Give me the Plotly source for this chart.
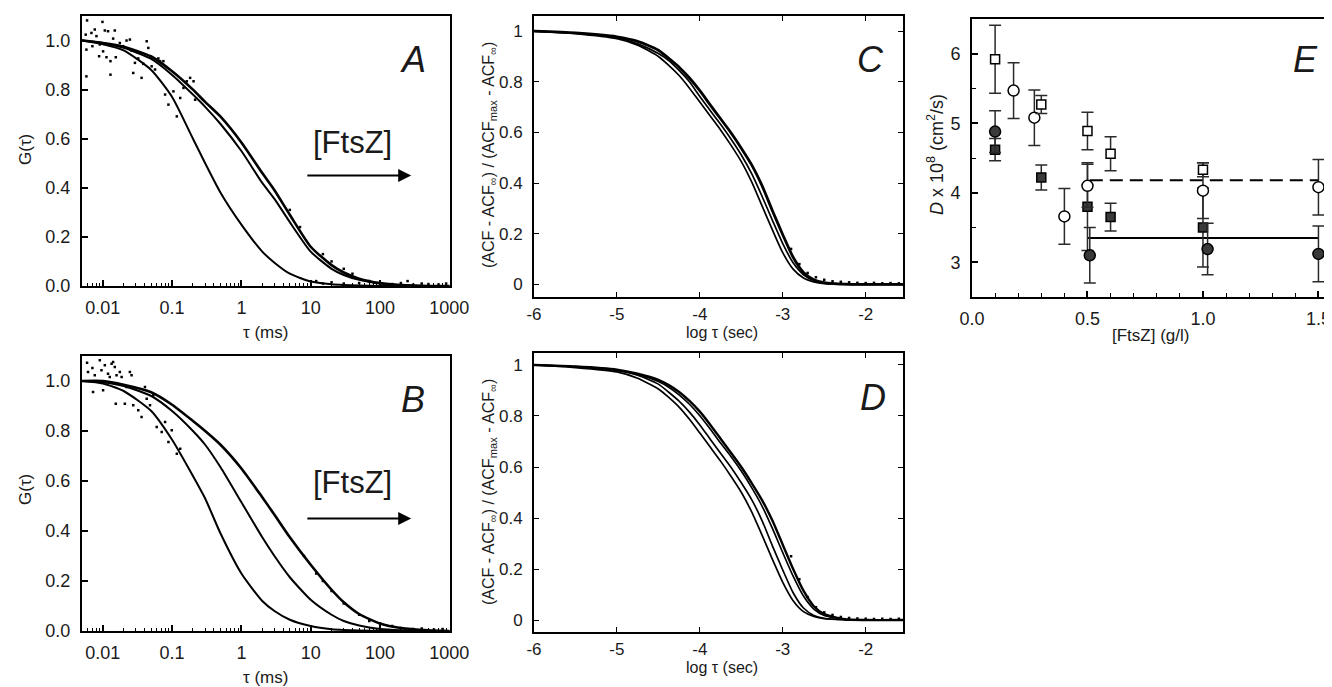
import plotly.graph_objects as go

# the page body keeps its default 8px margin, so the figure is a bit smaller
OFF = 8
W, H = 1332 - OFF, 687 - OFF
FONT = "Arial, Liberation Sans, sans-serif"
INK = "#1a1a1a"

#%% Panel A / B : G(tau) vs tau (ms), fitted curves
tau_fit = [0.005, 0.01, 0.02, 0.05, 0.1, 0.2, 0.3, 0.5, 1, 2, 3, 5, 10, 20, 30, 50, 100, 200, 500, 1000]

a_fast = [1.00, 0.985, 0.96, 0.88, 0.77, 0.60, 0.50, 0.38, 0.25, 0.14, 0.095, 0.05, 0.018, 0.007, 0.004, 0.002, 0.0, 0.0, 0.0, 0.0]
a_mid = [1.00, 0.99, 0.97, 0.925, 0.86, 0.78, 0.73, 0.66, 0.55, 0.42, 0.355, 0.26, 0.14, 0.07, 0.045, 0.025, 0.01, 0.003, 0.0, 0.0]
a_slow = [1.00, 0.99, 0.975, 0.935, 0.875, 0.80, 0.75, 0.69, 0.585, 0.46, 0.39, 0.29, 0.16, 0.085, 0.055, 0.03, 0.012, 0.004, 0.0, 0.0]

b_fast = [1.00, 0.99, 0.96, 0.88, 0.765, 0.62, 0.53, 0.39, 0.23, 0.12, 0.08, 0.045, 0.02, 0.007, 0.004, 0.002, 0.0, 0.0, 0.0, 0.0]
b_mid = [1.00, 0.995, 0.98, 0.94, 0.88, 0.80, 0.745, 0.655, 0.515, 0.375, 0.30, 0.215, 0.125, 0.065, 0.04, 0.022, 0.008, 0.003, 0.0, 0.0]
b_slow = [1.00, 1.00, 0.985, 0.955, 0.905, 0.84, 0.80, 0.745, 0.65, 0.535, 0.465, 0.375, 0.265, 0.165, 0.115, 0.068, 0.03, 0.012, 0.003, 0.0]

# scattered raw points (mostly the noisy short-lag part)
a_dot_t = [0.00593, 0.00567, 0.0058, 0.0058, 0.00686, 0.00766, 0.00708, 0.0081, 0.00989, 0.00905,
           0.00885, 0.0101, 0.0107, 0.0119, 0.0113, 0.0129, 0.0129, 0.0141, 0.0149, 0.0154,
           0.0176, 0.0197, 0.022, 0.0246, 0.026, 0.0275, 0.0291, 0.0325, 0.0363, 0.0384,
           0.043, 0.0454, 0.048, 0.0507, 0.0567, 0.0634, 0.067, 0.0749, 0.0792, 0.0885,
           0.1045, 0.117, 0.131, 0.146, 0.163, 0.182, 0.204, 0.215,
           5, 7, 15, 20, 30, 40, 12, 15, 20, 30, 50, 70, 100, 150, 200, 250, 300, 400, 500, 700, 900]
a_dot_g = [1.082, 1.024, 0.963, 0.854, 1.031, 1.045, 0.977, 1.018, 1.076, 0.984,
           0.936, 0.956, 1.041, 1.038, 0.932, 0.861, 0.916, 1.008, 1.041, 0.932,
           0.99, 0.977, 1.0, 1.004, 0.959, 0.868, 0.909, 0.927, 0.848, 0.905,
           0.997, 0.970, 0.936, 0.895, 0.882, 0.927, 0.916, 0.916, 0.78, 0.739,
           0.793, 0.691, 0.766, 0.807, 0.834, 0.848, 0.834, 0.759,
           0.31, 0.24, 0.13, 0.10, 0.07, 0.05, 0.02, 0.01, 0.015, 0.01, 0.012, 0.02, 0.01, 0.008, 0.012, 0.02, 0.005, 0.01, 0.008, 0.006, 0.01]

b_dot_t = [0.00593, 0.00612, 0.00708, 0.00724, 0.00766, 0.00905, 0.00957, 0.0101, 0.0107, 0.0119,
           0.0126, 0.0134, 0.0141, 0.0149, 0.0154, 0.0158, 0.0176, 0.0187, 0.0208, 0.022,
           0.0246, 0.026, 0.0275, 0.0325, 0.0363, 0.0406, 0.043, 0.048, 0.0537, 0.06,
           0.0708, 0.0792, 0.0885, 0.0989, 0.117, 0.131,
           8, 12, 15, 20, 30, 50, 70, 100, 150, 200, 300, 400, 600, 800]
b_dot_g = [1.073, 1.036, 1.052, 0.956, 1.023, 1.083, 1.043, 0.963, 1.063, 1.029,
           1.016, 1.069, 1.076, 1.056, 0.909, 1.023, 1.036, 1.016, 0.909, 0.976,
           1.036, 1.023, 0.903, 0.883, 0.856, 0.976, 0.929, 0.903, 0.943, 0.816,
           0.796, 0.836, 0.756, 0.803, 0.709, 0.729,
           0.30, 0.23, 0.20, 0.16, 0.11, 0.065, 0.04, 0.03, 0.02, 0.012, 0.008, 0.01, 0.006, 0.008]

#%% Panel C / D : normalised ACF vs log tau (sec)
logt = [-6, -5.5, -5, -4.75, -4.5, -4.375, -4.25, -4.125, -4, -3.875, -3.75, -3.625,
        -3.5, -3.375, -3.25, -3.125, -3, -2.875, -2.75, -2.625, -2.5, -2.25, -2, -1.5]

c_1 = [1.0, 0.99, 0.97, 0.945, 0.90, 0.865, 0.825, 0.775, 0.72, 0.665, 0.61, 0.55,
       0.485, 0.405, 0.31, 0.215, 0.125, 0.06, 0.025, 0.01, 0.003, 0.0, 0.0, 0.0]
c_2 = [1.0, 0.992, 0.974, 0.95, 0.912, 0.884, 0.845, 0.80, 0.742, 0.687, 0.632, 0.574,
       0.511, 0.437, 0.348, 0.253, 0.161, 0.085, 0.038, 0.015, 0.006, 0.001, 0.0, 0.0]
c_3 = [1.0, 0.993, 0.978, 0.96, 0.925, 0.893, 0.858, 0.815, 0.765, 0.709, 0.654, 0.599,
       0.538, 0.472, 0.39, 0.291, 0.196, 0.107, 0.047, 0.018, 0.007, 0.001, 0.0, 0.0]

d_1 = [1.0, 0.99, 0.973, 0.948, 0.906, 0.873, 0.835, 0.787, 0.733, 0.678, 0.623, 0.564,
       0.501, 0.424, 0.333, 0.238, 0.148, 0.076, 0.033, 0.014, 0.005, 0.001, 0.0, 0.0]
d_2 = [1.0, 0.993, 0.978, 0.96, 0.925, 0.893, 0.858, 0.815, 0.765, 0.709, 0.654, 0.599,
       0.538, 0.472, 0.39, 0.291, 0.196, 0.107, 0.047, 0.018, 0.007, 0.001, 0.0, 0.0]
d_3 = [1.0, 0.994, 0.98, 0.963, 0.935, 0.913, 0.883, 0.846, 0.801, 0.749, 0.694, 0.641,
       0.584, 0.519, 0.447, 0.359, 0.264, 0.172, 0.094, 0.043, 0.018, 0.002, 0.0, 0.0]
d_4 = [1.0, 0.994, 0.982, 0.966, 0.942, 0.921, 0.894, 0.859, 0.817, 0.766, 0.711, 0.656,
       0.60, 0.537, 0.47, 0.39, 0.295, 0.20, 0.115, 0.054, 0.023, 0.003, 0.0, 0.0]

tail_x = [-2.9, -2.8, -2.7, -2.6, -2.5, -2.4, -2.3, -2.2, -2.1, -2.0, -1.9, -1.8, -1.7, -1.6]
c_tail = [0.14, 0.08, 0.045, 0.028, 0.018, 0.012, 0.01, 0.008, 0.006, 0.005, 0.006, 0.004, 0.005, 0.004]
d_tail = [0.25, 0.16, 0.09, 0.05, 0.03, 0.02, 0.012, 0.008, 0.006, 0.005, 0.004, 0.005, 0.004, 0.005]

#%% Panel E : D x 10^8 vs [FtsZ]
osq_x = [0.1, 0.3, 0.5, 0.6, 1.0]
osq_y = [5.92, 5.27, 4.89, 4.56, 4.33]
osq_e = [0.49, 0.13, 0.27, 0.245, 0.1]

oci_x = [0.18, 0.27, 0.40, 0.50, 1.0, 1.5]
oci_y = [5.47, 5.08, 3.66, 4.10, 4.03, 4.08]
oci_e = [0.40, 0.40, 0.40, 0.31, 0.40, 0.40]

fci_x = [0.1, 0.51, 1.02, 1.5]
fci_y = [4.88, 3.10, 3.19, 3.12]
fci_e = [0.30, 0.40, 0.37, 0.40]

fsq_x = [0.1, 0.3, 0.5, 0.6, 1.0]
fsq_y = [4.62, 4.22, 3.80, 3.65, 3.50]
fsq_e = [0.16, 0.18, 0.63, 0.20, 0.57]

dash_x = [0.51, 1.5]
dash_y = [4.18, 4.18]
solid_x = [0.5, 1.5]
solid_y = [3.35, 3.35]

#%% figure
fig = go.Figure()


def curve(x, y, ax, w=2.0):
    fig.add_trace(go.Scatter(x=x, y=y, xaxis=ax[0], yaxis=ax[1], mode="lines",
                             line=dict(color="black", width=w, shape="spline", smoothing=0.6),
                             showlegend=False, hoverinfo="skip"))


def dots(x, y, ax, s=2.5):
    fig.add_trace(go.Scatter(x=x, y=y, xaxis=ax[0], yaxis=ax[1], mode="markers",
                             marker=dict(color="black", size=s, symbol="square"),
                             showlegend=False, hoverinfo="skip"))


curve(tau_fit, a_fast, ("x", "y"))
curve(tau_fit, a_mid, ("x", "y"))
curve(tau_fit, a_slow, ("x", "y"), 2.6)
dots(a_dot_t, a_dot_g, ("x", "y"))
curve(tau_fit, b_fast, ("x2", "y2"))
curve(tau_fit, b_mid, ("x2", "y2"))
curve(tau_fit, b_slow, ("x2", "y2"), 2.6)
dots(b_dot_t, b_dot_g, ("x2", "y2"))

for yy in (c_1, c_2):
    curve(logt, yy, ("x3", "y3"), 1.7)
curve(logt, c_3, ("x3", "y3"), 2.8)
dots(tail_x, c_tail, ("x3", "y3"), 2.5)
for yy in (d_1, d_2, d_3):
    curve(logt, yy, ("x4", "y4"), 1.7)
curve(logt, d_4, ("x4", "y4"), 2.4)
dots(tail_x, d_tail, ("x4", "y4"), 2.5)

# panel E
fig.add_trace(go.Scatter(x=dash_x, y=dash_y, xaxis="x5", yaxis="y5", mode="lines",
                         line=dict(color="black", width=2, dash="13px,7px"), showlegend=False))
fig.add_trace(go.Scatter(x=solid_x, y=solid_y, xaxis="x5", yaxis="y5", mode="lines",
                         line=dict(color="black", width=2), showlegend=False))


def epts(x, y, e, sym, fill, size):
    fig.add_trace(go.Scatter(
        x=x, y=y, xaxis="x5", yaxis="y5", mode="markers", showlegend=False,
        error_y=dict(type="data", array=e, color="#2a2a2a", thickness=1.5, width=6),
        marker=dict(symbol=sym, size=size, color=fill, line=dict(color="black", width=1.5))))


epts(fsq_x, fsq_y, fsq_e, "square", "#3a3a3a", 9)
epts(fci_x, fci_y, fci_e, "circle", "#3a3a3a", 11)
epts(oci_x, oci_y, oci_e, "circle", "white", 11)
epts(osq_x, osq_y, osq_e, "square", "white", 9)


# positions below are in page pixels, shifted by the body margin
def px_x(a, b):
    return [(a - OFF) / W, (b - OFF) / W]


def px_y(top, bot):
    return [1 - (bot - OFF) / H, 1 - (top - OFF) / H]


common = dict(showline=True, linecolor="black", linewidth=2, showgrid=False, zeroline=False,
              ticks="inside", tickcolor="black", automargin=False)

minor_log = [m * 10.0 ** e for e in range(-3, 3) for m in range(2, 10)]
logax = dict(common, type="log", range=[-2.30, 3.01], mirror=True, ticklen=6, tickwidth=1.5,
             tickvals=[0.01, 0.1, 1, 10, 100, 1000], ticktext=["0.01", "0.1", "1", "10", "100", "1000"],
             minor=dict(tickvals=minor_log, ticks="inside", ticklen=3, tickcolor="black", tickwidth=1.2),
             tickfont=dict(family=FONT, size=18, color=INK), ticklabelstandoff=4)
gax = dict(common, range=[0, 1.10], mirror=True, ticklen=6, tickwidth=1.5,
           tickvals=[0, 0.2, 0.4, 0.6, 0.8, 1.0], ticktext=["0.0", "0.2", "0.4", "0.6", "0.8", "1.0"],
           tickfont=dict(family=FONT, size=18, color=INK), ticklabelstandoff=6)

mat_x = dict(common, range=[-6, -1.55], mirror="ticks", ticklen=5, tickwidth=1.2,
             tickvals=[-6, -5, -4, -3, -2], ticktext=["-6", "-5", "-4", "-3", "-2"],
             tickfont=dict(family=FONT, size=17, color=INK), ticklabelstandoff=1)
mat_y = dict(common, mirror="ticks", ticklen=5, tickwidth=1.2,
             tickvals=[0, 0.2, 0.4, 0.6, 0.8, 1], ticktext=["0", "0.2", "0.4", "0.6", "0.8", "1"],
             tickfont=dict(family=FONT, size=17, color=INK), ticklabelstandoff=6)

fig.update_layout(
    width=W, height=H, margin=dict(l=0, r=0, t=0, b=0),
    paper_bgcolor="white", plot_bgcolor="white", showlegend=False,
    font=dict(family=FONT, color=INK),
    xaxis=dict(logax, domain=px_x(82, 450), anchor="y"),
    yaxis=dict(gax, domain=px_y(16, 286), anchor="x"),
    xaxis2=dict(logax, domain=px_x(82, 450), anchor="y2"),
    yaxis2=dict(gax, domain=px_y(356, 631), anchor="x2"),
    xaxis3=dict(mat_x, domain=px_x(534, 903), anchor="y3"),
    yaxis3=dict(mat_y, range=[-0.05, 1.06], domain=px_y(16, 297), anchor="x3"),
    xaxis4=dict(mat_x, domain=px_x(534, 903), anchor="y4"),
    yaxis4=dict(mat_y, range=[-0.047, 1.047], domain=px_y(353, 632), anchor="x4"),
    xaxis5=dict(common, range=[0, 1.55], mirror=True, ticklen=6, tickwidth=1.5,
                tickvals=[0, 0.5, 1.0, 1.5], ticktext=["0.0", "0.5", "1.0", "1.5"],
                tickfont=dict(family=FONT, size=18, color=INK), ticklabelstandoff=4,
                minor=dict(dtick=0.1, ticks="inside", ticklen=4, tickcolor="black", tickwidth=1.2),
                domain=px_x(972, 1330), anchor="y5"),
    yaxis5=dict(common, range=[2.5, 6.5], mirror=True, ticklen=6, tickwidth=1.5,
                tickvals=[3, 4, 5, 6], tickfont=dict(family=FONT, size=18, color=INK), ticklabelstandoff=6,
                minor=dict(dtick=0.5, ticks="inside", ticklen=4, tickcolor="black", tickwidth=1.2),
                domain=px_y(19, 297), anchor="x5"),
)


def note(text, x, y, size, angle=0, italic=False):
    fig.add_annotation(text=text, x=(x - OFF) / W, y=1 - (y - OFF) / H, xref="paper", yref="paper",
                       showarrow=False, textangle=angle, xanchor="center", yanchor="middle",
                       font=dict(family=FONT, size=size, color=INK,
                                 style="italic" if italic else "normal"))


# axis titles
note("G(τ)", 25, 150, 17, -90)
note("G(τ)", 25, 490, 17, -90)
note("τ (ms)", 265, 332, 17)
note("τ (ms)", 265, 677, 17)
acf = "(ACF - ACF<sub>∞</sub>) / (ACF<sub>max</sub> - ACF<sub>∞</sub>)"
note(acf, 489, 155, 16, -90)
note(acf, 489, 492, 16, -90)
note("log τ (sec)", 722, 332, 16)
note("log τ (sec)", 722, 667, 16)
note("<i>D</i> x 10<sup>8</sup> (cm<sup>2</sup>/s)", 935, 155, 18, -90)
note("[FtsZ] (g/l)", 1150, 335, 17)

# panel letters
note("A", 413, 60, 36, italic=True)
note("B", 413, 400, 36, italic=True)
note("C", 870, 60, 36, italic=True)
note("D", 873, 398, 36, italic=True)
note("E", 1305, 60, 36, italic=True)

# [FtsZ] arrows in A and B
for xa, ya, top in (("x", "y", 143), ("x2", "y2", 483)):
    note("[FtsZ]", 352, top, 31)
    fig.add_annotation(x=2.45, y=0.45, ax=0.93, ay=0.45, xref=xa, yref=ya, axref=xa, ayref=ya,
                       showarrow=True, arrowhead=2, arrowsize=1.3, arrowwidth=2, arrowcolor="black",
                       text="")

fig.write_html("out.html")
